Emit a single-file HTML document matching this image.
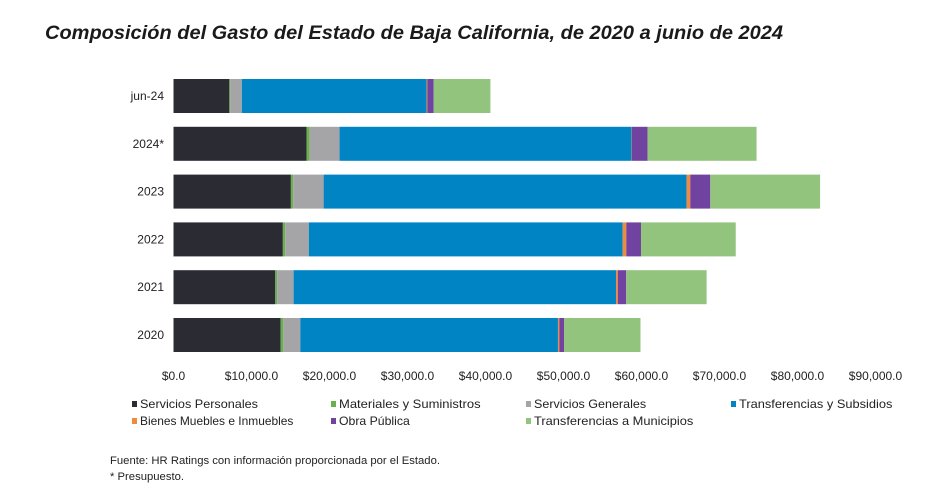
<!DOCTYPE html>
<html><head><meta charset="utf-8"><style>
body{margin:0;background:#fff;width:941px;height:491px;overflow:hidden;font-family:"Liberation Sans",sans-serif}
svg text{font-family:"Liberation Sans",sans-serif}
</style></head><body>
<svg id="c" width="941" height="491">
<text x="45" y="39" font-size="19" font-weight="bold" font-style="italic" fill="#1a1a1a" textLength="738" lengthAdjust="spacingAndGlyphs">Composición del Gasto del Estado de Baja California, de 2020 a junio de 2024</text>
<g id="bars"></g><g id="axis"></g><g id="legend"></g>
<text x="110" y="464" font-size="11" fill="#222" textLength="330" lengthAdjust="spacingAndGlyphs">Fuente: HR Ratings con información proporcionada por el Estado.</text>
<text x="110" y="480" font-size="11" fill="#222" textLength="74" lengthAdjust="spacingAndGlyphs">* Presupuesto.</text>
</svg>
<script>
const categories=["jun-24","2024*","2023","2022","2021","2020"];
const seriesNames=["Servicios Personales","Materiales y Suministros","Servicios Generales","Transferencias y Subsidios","Bienes Muebles e Inmuebles","Obra Pública","Transferencias a Municipios"];
const serviciosPersonales=[7160,17060,15050,14020,13050,13740];
const materiales=[100,400,300,300,230,340];
const serviciosGenerales=[1500,3830,3900,3030,2120,2180];
const transferenciasSubsidios=[23700,37440,46540,40240,41330,33030];
const bienesMuebles=[100,50,460,460,230,170];
const obraPublica=[800,2000,2570,1890,1080,630];
const transferenciasMunicipios=[7270,13970,14080,12140,10310,9780];
const ticks=[0,10000,20000,30000,40000,50000,60000,70000,80000,90000];
const colors=["#2b2c33","#6ab04c","#a5a5a7","#0084c4","#f08a3c","#7043a0","#93c47d"];
const series=[serviciosPersonales,materiales,serviciosGenerales,transferenciasSubsidios,bienesMuebles,obraPublica,transferenciasMunicipios];
const NS="http://www.w3.org/2000/svg";
const x=v=>173.5+v*0.0078;
const yC=i=>96+i*47.8;
const bh=34;
const bars=document.getElementById('bars'),axis=document.getElementById('axis'),leg=document.getElementById('legend');
function mk(t,a,p){const e=document.createElementNS(NS,t);for(const k in a)e.setAttribute(k,a[k]);p.appendChild(e);return e;}
categories.forEach((c,i)=>{
  let acc=0;
  series.forEach((s,j)=>{
    const r=mk('rect',{x:x(acc),y:yC(i)-bh/2,width:Math.max(0,x(acc+s[i])-x(acc)),height:bh,fill:colors[j]},bars);
    
    
    acc+=s[i];
  });
  const t=mk('text',{x:164,y:yC(i)+4,'font-size':12,'text-anchor':'end',fill:'#222'},axis);
  t.textContent=c;
  
  
});
ticks.forEach(v=>{
  const t=mk('text',{x:x(v),y:380,'font-size':12,'text-anchor':'middle',fill:'#222'},axis);
  t.textContent='$'+v.toLocaleString('en-US')+'.0';
  
  
});
const lx=[132,331,526,731,132,331,526],ly=[405,405,405,405,422,422,422];
seriesNames.forEach((n,j)=>{
  const g=mk('g',{},leg);
  
  
  mk('rect',{x:lx[j],y:ly[j]-4,width:5,height:6,fill:colors[j]},g);
  const t=mk('text',{x:lx[j]+8,y:ly[j]+3,'font-size':12,fill:'#222'},g);
  t.textContent=n;
  t.setAttribute('textLength',n.length*5.9);
  t.setAttribute('lengthAdjust','spacingAndGlyphs');
});
</script>
</body></html>
